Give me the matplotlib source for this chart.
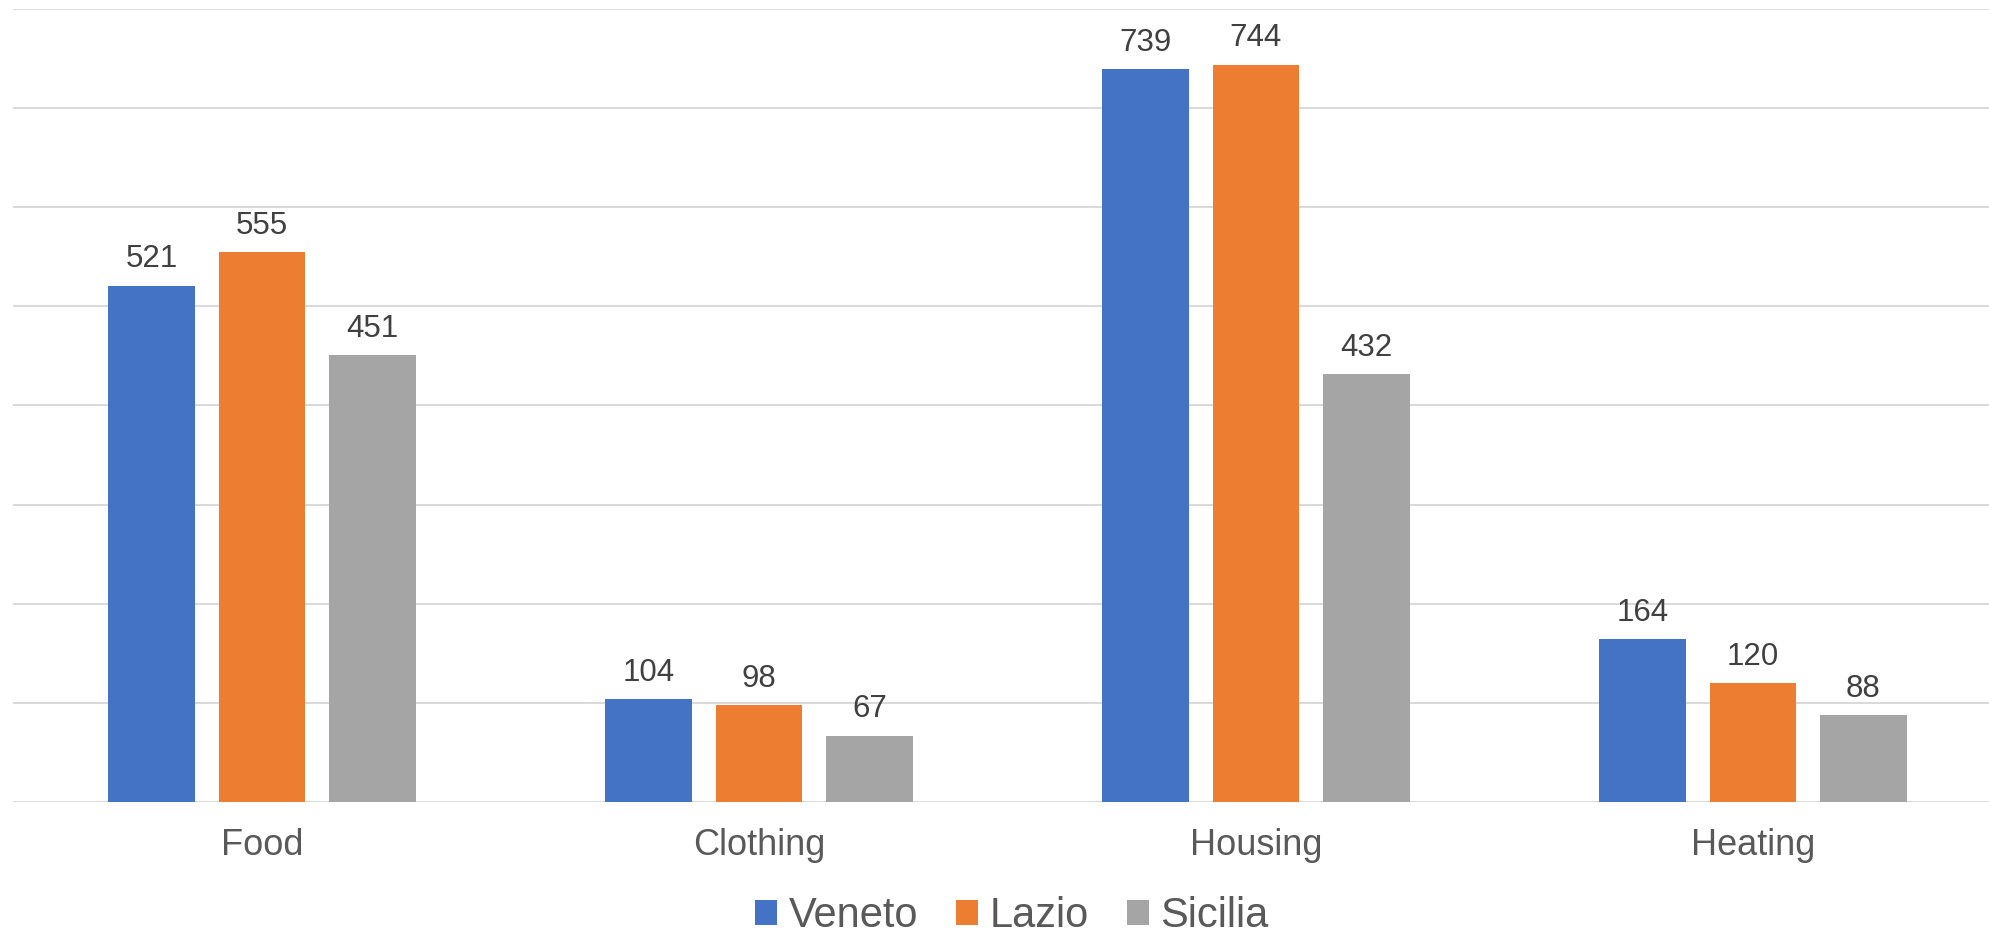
import matplotlib
matplotlib.use("Agg")
import matplotlib.pyplot as plt
import numpy as np
from matplotlib.patches import Patch

categories = ["Food", "Clothing", "Housing", "Heating"]
series_names = ["Veneto", "Lazio", "Sicilia"]
veneto = [521, 104, 739, 164]
lazio = [555, 98, 744, 120]
sicilia = [451, 67, 432, 88]
colors = ["#4472C4", "#ED7D31", "#A5A5A5"]

plt.rcParams["font.family"] = ["Liberation Sans", "DejaVu Sans"]

W, H = 1990, 933
fig = plt.figure(figsize=(W / 100, H / 100), dpi=100)
left, right, bottom, top = 13.5, 2001.5, 802, 9
ax = fig.add_axes([left / W, (H - bottom) / H, (right - left) / W, (bottom - top) / H])

x = np.arange(len(categories))
bar_w = 0.175
step = 0.222
for i, (vals, name, col) in enumerate(zip([veneto, lazio, sicilia], series_names, colors)):
    bars = ax.bar(x + (i - 1) * step, vals, width=bar_w, color=col, label=name, zorder=3)
    ax.bar_label(bars, labels=[str(v) for v in vals], padding=8.0, fontsize=22.5, color="#404040")

ax.set_xlim(-0.5, len(categories) - 0.5)
ax.set_ylim(0, 800)
ax.set_yticks(np.arange(0, 801, 100))
ax.yaxis.grid(True, color="#D9D9D9", linewidth=1.4, zorder=0)
ax.set_axisbelow(True)
ax.tick_params(axis="y", left=False, labelleft=False)
ax.set_xticks(x)
ax.set_xticklabels(categories, fontsize=26, color="#595959")
ax.tick_params(axis="x", length=0, pad=18.5)
for s in ax.spines.values():
    s.set_visible(False)

handles = [Patch(facecolor=c, edgecolor="none") for c in colors]
fig.legend(handles, series_names, loc="center", bbox_to_anchor=(1012 / W, 17 / H),
           ncol=3, frameon=False, fontsize=30, handlelength=0.53, handleheight=0.53,
           handletextpad=0.28, columnspacing=0.9, borderpad=0, labelcolor="#595959")

fig.savefig("out.png", dpi=100)
